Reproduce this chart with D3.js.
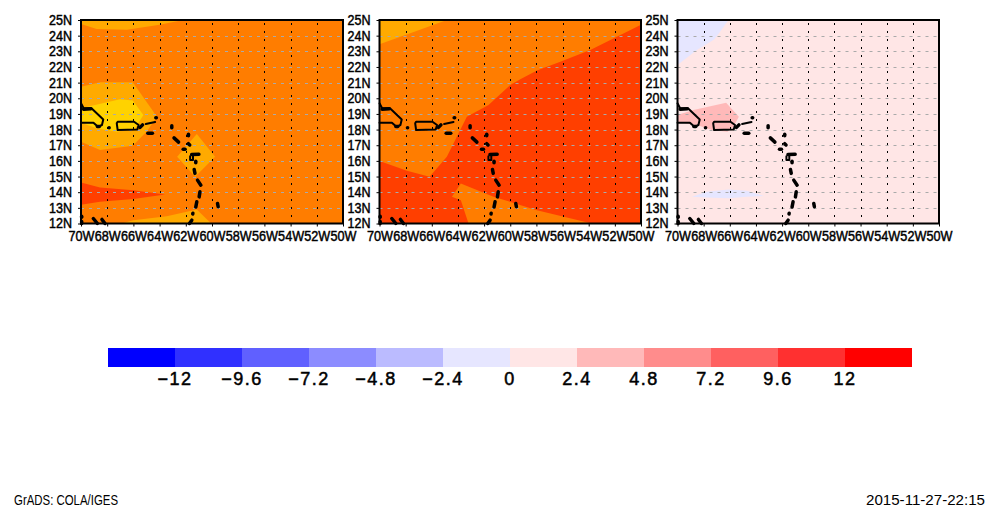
<!DOCTYPE html>
<html>
<head>
<meta charset="utf-8">
<script src="https://cdn.jsdelivr.net/npm/d3@7"></script>
<style>
    html, body { margin: 0; padding: 0; background: #fff; }
    svg { display: block; }
    text { font-family: "Liberation Sans", sans-serif; fill: #000; }
    .axis path { display: none; }
    .axis line { stroke: #000; stroke-width: 1; }
    .axis text { font-size: 14px; stroke: #000; stroke-width: 0.45px; }
    .barLabel { font-size: 18px; stroke: #000; stroke-width: 0.5px; letter-spacing: 1.5px; }
    .foot { font-size: 14px; }
</style>
</head>
<body>
<svg id="chart" width="997" height="522"></svg>
<script>
// tick labels
const lonTicks = [-70, -68, -66, -64, -62, -60, -58, -56, -54, -52, -50];
const latTicks = [12, 13, 14, 15, 16, 17, 18, 19, 20, 21, 22, 23, 24, 25];

// colour bar
const barLevels = [-12, -9.6, -7.2, -4.8, -2.4, 0, 2.4, 4.8, 7.2, 9.6, 12];
const barColors = ["#0000ff", "#3030ff", "#6060ff", "#8c8cff", "#bbbbff", "#e6e6ff",
                   "#ffe6e6", "#ffb9b9", "#ff8c8c", "#ff6060", "#ff3030", "#ff0000"];

// shaded bands of the left map, as [lon, lat] rings
const leftBase = "#ff7d00";
const leftBands = [
    {color: "#ffaa00", ring: [[-70,25],[-70,24.75],[-68.8,24.43],[-66.5,24.37],[-64,24.69],[-62.2,25]]},
    {color: "#ffaa00", ring: [[-70,20.74],[-68.55,21.02],[-66.05,21.02],[-64.2,18.82],[-65,17.86],[-66.05,16.97],[-68.55,16.69],[-70,17.22]]},
    {color: "#ffd200", ring: [[-70,19.36],[-67.02,19.93],[-66.05,19.85],[-65.24,18.93],[-65.87,18.08],[-67.27,17.86],[-68.8,18.08],[-70,18.44]]},
    {color: "#ffaa00", ring: [[-62.66,16.26],[-61.16,17.71],[-59.76,16.26],[-61.29,14.99]]},
    {color: "#ff3f00", ring: [[-70,14.62],[-68.55,14.3],[-66,14.13],[-63.58,13.85],[-66,13.56],[-68.55,13.39],[-70,13.2]]},
    {color: "#ffaa00", ring: [[-66.9,12],[-66,12.21],[-63.45,12.47],[-61.16,12.9],[-60.06,12]]}
];

// middle map
const midBase = "#ff7d00";
const midBands = [
    {color: "#ffaa00", ring: [[-70,25],[-64.85,25],[-67.65,24.15],[-70,23.45]]},
    {color: "#ff3f00", ring: [[-50,24.69],[-53.88,23.09],[-56.17,22.34],[-57.96,21.77],[-59.23,21.21],[-60,20.85],[-61.66,19.57],[-63.32,18.82],[-63.95,17.76],[-64.85,16.26],[-66.17,14.99],[-67.9,15.37],[-70,15.99],[-70,12],[-50,12]]},
    {color: "#ff7d00", ring: [[-64.46,13.71],[-63.78,14.56],[-61.28,13.71],[-57.96,12.85],[-54,12.04],[-53.9,12],[-63.19,12],[-63.78,13.49]]}
];

// right map
const rightBase = "#ffe6e6";
const rightBands = [
    {color: "#e6e6ff", ring: [[-70,25],[-66.1,25],[-66.74,24.25],[-67.2,23.76],[-68.52,23.09],[-70,22.12]]},
    {color: "#ffb9b9", ring: [[-70,18.93],[-68.78,19.25],[-66.28,19.72],[-65.31,18.82],[-65.72,18.18],[-66.18,17.86],[-67.38,17.97],[-68.27,18.23],[-70,18.5]]},
    {color: "#e6e6ff", ring: [[-68.9,13.71],[-67.76,14.03],[-66.1,14.17],[-64.7,14.09],[-63.38,13.75],[-64.7,13.71],[-66.1,13.62],[-67.76,13.66]]}
];

// coast outlines, [lon, lat]
const coast = [
    [[-67.27,18.4],[-67.2,18.5],[-65.95,18.5],[-65.6,18.29],[-65.7,18],[-67.2,17.97],[-67.27,18.4]],
    [[-70,19.68],[-69.8,19.36],[-69.2,19.36],[-68.8,19.04],[-68.3,18.65],[-68.4,18.29],[-68.7,18.18],[-69.05,18.44],[-70,18.44]],
    [[-65.06,18.35],[-64.34,18.48]],
    [[-61.67,16.3],[-61.67,16.05],[-61.45,16.05],[-61.45,16.35]]
];

// small islands, drawn as thick short strokes
const islands = [
    [[-69.8,19.3],[-69.25,19.33]],
    [[-68.75,18.2],[-68.6,18.2]],
    [[-65.49,18.14],[-65.3,18.3]],
    [[-64.29,18.76],[-64.25,18.76]],
    [[-64.9,17.76],[-64.55,17.76]],
    [[-67.86,18.12],[-67.85,18.12]],
    [[-63.07,18.25],[-63.07,18.12]],
    [[-62.9,17.47],[-62.55,17.2]],
    [[-61.8,17.7],[-61.8,17.6]],
    [[-61.8,17.1],[-61.7,17.02]],
    [[-62.2,16.75],[-62.05,16.75]],
    [[-61.55,16.4],[-61,16.42]],
    [[-61.24,15.98],[-61.24,15.88]],
    [[-61.36,15.45],[-61.3,15.2]],
    [[-61.11,14.77],[-60.85,14.45]],
    [[-60.92,14.03],[-60.98,13.7]],
    [[-61.16,13.39],[-61.24,13.05]],
    [[-61.46,12.66],[-61.47,12.6]],
    [[-61.54,12.21],[-61.72,12]],
    [[-59.58,13.28],[-59.53,13.07]],
    [[-69.95,12.47],[-69.95,12.4]],
    [[-69.95,12.12],[-69.95,12]],
    [[-69.06,12.32],[-68.75,12]],
    [[-68.4,12.26],[-68.17,12]]
];

const footLeft = "GrADS: COLA/IGES";
const footRight = "2015-11-27-22:15";

let svg = d3.select("#chart");

let panels = [
    {left: 81, right: 343, base: leftBase, bands: leftBands},
    {left: 379.5, right: 641, base: midBase, bands: midBands},
    {left: 677.5, right: 939, base: rightBase, bands: rightBands}
];
let mapTop = 20, mapBottom = 223.5;

panels.forEach(function(p, i) {
    let x = d3.scaleLinear().domain([-70, -50]).range([p.left, p.right]);
    let y = d3.scaleLinear().domain([12, 25]).range([mapBottom, mapTop]);
    let ringPath = d3.line().x(d => x(d[0])).y(d => y(d[1]));
    let g = svg.append("g").attr("class", "panel");

    g.append("rect")
        .attr("x", x(-70)).attr("y", y(25))
        .attr("width", x(-50) - x(-70)).attr("height", y(12) - y(25))
        .attr("fill", p.base);

    g.selectAll("path.band")
        .data(p.bands)
        .enter().append("path")
        .attr("class", "band")
        .attr("d", d => ringPath(d.ring) + "Z")
        .attr("fill", d => d.color);

    // grid: grey dashes along latitudes, black dots along longitudes
    g.selectAll("line.latGrid")
        .data(latTicks.slice(1, -1))
        .enter().append("line")
        .attr("class", "latGrid")
        .attr("x1", x(-70)).attr("x2", x(-50))
        .attr("y1", d => Math.round(y(d)) + 0.5).attr("y2", d => Math.round(y(d)) + 0.5)
        .attr("stroke", "#aaaaaa").attr("stroke-width", 1)
        .attr("stroke-dasharray", "3 5");

    g.selectAll("line.lonGrid")
        .data(lonTicks.slice(1, -1))
        .enter().append("line")
        .attr("class", "lonGrid")
        .attr("x1", d => Math.round(x(d)) + 0.5).attr("x2", d => Math.round(x(d)) + 0.5)
        .attr("y1", y(25) + 3).attr("y2", y(12))
        .attr("stroke", "#000").attr("stroke-width", 1)
        .attr("stroke-dasharray", "2 6");

    g.selectAll("path.coast")
        .data(coast)
        .enter().append("path")
        .attr("class", "coast")
        .attr("d", d => ringPath(d))
        .attr("fill", "none")
        .attr("stroke", "#000").attr("stroke-width", 2)
        .attr("stroke-linecap", "round").attr("stroke-linejoin", "round");

    g.selectAll("path.island")
        .data(islands)
        .enter().append("path")
        .attr("class", "island")
        .attr("d", d => ringPath(d))
        .attr("fill", "none")
        .attr("stroke", "#000").attr("stroke-width", 3.5)
        .attr("stroke-linecap", "round");

    g.append("rect")
        .attr("x", x(-70)).attr("y", y(25))
        .attr("width", x(-50) - x(-70)).attr("height", y(12) - y(25))
        .attr("fill", "none").attr("stroke", "#000").attr("stroke-width", 2);

    g.append("g")
        .attr("class", "axis")
        .attr("transform", "translate(0," + y(12) + ")")
        .call(d3.axisBottom(x).tickValues(lonTicks).tickSize(3).tickPadding(4.5).tickFormat(d => Math.abs(d) + "W"))
        .selectAll("text")
        .attr("textLength", 26).attr("lengthAdjust", "spacingAndGlyphs");

    g.append("g")
        .attr("class", "axis")
        .attr("transform", "translate(" + x(-70) + ",0)")
        .call(d3.axisLeft(y).tickValues(latTicks).tickSize(3).tickPadding(6).tickFormat(d => d + "N"))
        .selectAll("text")
        .attr("textLength", 23).attr("lengthAdjust", "spacingAndGlyphs");
});

// colour bar
let barX = d3.scaleLinear().domain([0, barColors.length]).range([108, 912]);
svg.selectAll("rect.bar")
    .data(barColors)
    .enter().append("rect")
    .attr("class", "bar")
    .attr("x", (d, i) => barX(i))
    .attr("y", 348)
    .attr("width", (d, i) => barX(i + 1) - barX(i))
    .attr("height", 19)
    .attr("fill", d => d);

svg.selectAll("text.barLabel")
    .data(barLevels)
    .enter().append("text")
    .attr("class", "barLabel")
    .attr("x", (d, i) => barX(i + 1))
    .attr("y", 385)
    .attr("text-anchor", "middle")
    .text(d => d < 0 ? "\u2212" + Math.abs(d) : d);

svg.append("text").attr("class", "foot").attr("x", 14).attr("y", 505)
    .attr("textLength", 104).attr("lengthAdjust", "spacingAndGlyphs").text(footLeft);
svg.append("text").attr("class", "foot").attr("x", 866).attr("y", 505)
    .attr("textLength", 119).attr("lengthAdjust", "spacingAndGlyphs").text(footRight);
</script>
</body>
</html>
